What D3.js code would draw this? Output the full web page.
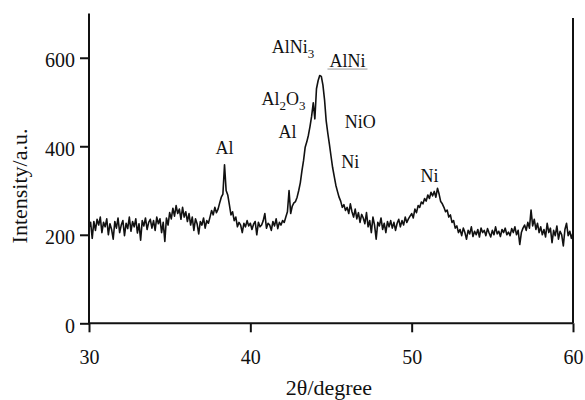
<!DOCTYPE html>
<html>
<head>
<meta charset="utf-8">
<script src="https://cdn.jsdelivr.net/npm/d3@7"></script>
<style>
  body { margin: 0; background: #fff; }
  svg text { font-family: "Liberation Serif", "Times New Roman", "DejaVu Serif", serif !important; fill: #111; }
</style>
</head>
<body>
<svg width="585" height="400"></svg>
<script>
// scan starts at 30 deg, one reading every 0.1 deg
var angleStart = 30;
var angleStep = 0.1;

// intensity, one row per degree (30 ... 59, then 60)
var intensity = [
  215, 228, 192, 230, 210, 235, 222, 240, 205, 228,
  218, 236, 200, 225, 212, 190, 230, 215, 238, 205,
  222, 232, 198, 226, 214, 240, 208, 230, 218, 236,
  204, 225, 188, 232, 220, 238, 212, 228, 235, 215,
  232, 210, 240, 225, 236, 205, 228, 185, 238, 222,
  250, 236, 260, 242, 266, 248, 258, 235, 262, 240,
  252, 230, 248, 222, 240, 210, 236, 225, 202, 230,
  222, 238, 215, 232, 226, 240, 255, 245, 262, 250,
  258, 272, 285, 292, 358, 300, 290, 268, 245, 252,
  232, 240, 218, 228, 222, 205, 226, 218, 232, 220,
  226, 212, 224, 230, 200, 228, 218, 222, 232, 248,
  215, 226, 222, 210, 230, 220, 236, 214, 228, 222,
  232, 228, 240, 252, 300, 248, 265, 272, 275, 285,
  300, 318, 345, 368, 398, 410, 425, 445, 468, 498,
  462, 530, 548, 560, 558, 538, 505, 458, 430, 405,
  378, 352, 332, 312, 298, 285, 276, 262, 268, 255,
  262, 248, 270, 252, 240, 258, 236, 250, 228, 246,
  238, 225, 250, 218, 232, 205, 240, 222, 190, 228,
  220, 238, 212, 226, 205, 230, 218, 232, 215, 228,
  210, 226, 235, 218, 232, 222, 240, 228, 236, 242,
  248, 238, 258, 250, 266, 262, 274, 270, 282, 276,
  290, 282, 296, 288, 298, 285, 305, 292, 275, 270,
  262, 252, 256, 240, 245, 228, 232, 215, 220, 205,
  212, 198, 215, 205, 190, 210, 202, 218, 196, 208,
  200, 212, 195, 215, 205, 210, 198, 214, 204, 195,
  210, 200, 218, 202, 208, 196, 212, 205, 215, 200,
  206, 198, 214, 205, 218, 200, 210, 178, 205, 215,
  222, 210, 228, 215, 256, 220, 235, 212, 226, 205,
  218, 200, 212, 195, 226, 205, 215, 182, 210, 198,
  220, 190, 208, 200, 175, 212, 226, 198, 208, 192,
  205
];

var xTicks = [30, 40, 50, 60];
var yTicks = [0, 200, 400, 600];

// phase labels: name, subscript, where they sit (2theta, intensity)
var phaseNames = ['AlNi', 'AlNi', 'Al', 'NiO', 'Al', 'Ni', 'Ni'];
var phaseSubs  = ['3', '', '', '', '', '', ''];
var phaseAngle = [42.64, 46.02, 42.30, 46.82, 38.40, 46.20, 51.10];
var phaseLevel = [611, 579, 419, 441, 383, 351, 319];

var serif = '"Liberation Serif", "Times New Roman", serif';

var svg = d3.select('svg');

var x = d3.scaleLinear().domain([30, 60]).range([89, 573]);
var y = d3.scaleLinear().domain([0, 700]).range([323.3, 13.5]);

var points = intensity.map(function(v, i) {
  return { a: angleStart + i * angleStep, v: v };
});

// the pattern itself
svg.append('path')
  .datum(points)
  .attr('fill', 'none')
  .attr('stroke', '#111')
  .attr('stroke-width', 1.6)
  .attr('stroke-linejoin', 'round')
  .attr('d', d3.line()
    .x(function(d) { return x(d.a); })
    .y(function(d) { return y(d.v); }));

// axes
var gx = svg.append('g')
  .attr('transform', 'translate(0,' + y(0) + ')')
  .call(d3.axisBottom(x).tickValues(xTicks).tickSize(9).tickFormat(d3.format('d')));
gx.selectAll('text').attr('y', 41).attr('dy', 0);

var gy = svg.append('g')
  .attr('transform', 'translate(' + x(30) + ',0)')
  .call(d3.axisLeft(y).tickValues(yTicks).tickSize(9).tickPadding(5).tickFormat(d3.format('d')));
gy.selectAll('text').attr('dy', '0.45em');

svg.selectAll('g').attr('font-family', serif);
svg.selectAll('.domain').remove();
svg.selectAll('.tick line').attr('stroke', '#111').attr('stroke-width', 2);
svg.selectAll('.tick text').style('font-size', '20px').attr('fill', '#111');

// frame lines: left, bottom, right
svg.append('line')
  .attr('x1', x(30)).attr('x2', x(30))
  .attr('y1', y(700)).attr('y2', y(0) + 1)
  .attr('stroke', '#111').attr('stroke-width', 2);
svg.append('line')
  .attr('x1', x(30)).attr('x2', x(60))
  .attr('y1', y(0)).attr('y2', y(0))
  .attr('stroke', '#111').attr('stroke-width', 2);
svg.append('line')
  .attr('x1', x(60)).attr('x2', x(60))
  .attr('y1', y(690)).attr('y2', y(0))
  .attr('stroke', '#111').attr('stroke-width', 2);

// axis titles
svg.append('text')
  .attr('x', 329).attr('y', 395)
  .attr('text-anchor', 'middle')
  .attr('font-family', serif)
  .style('font-size', '22px')
  .text('2θ/degree');

svg.append('text')
  .attr('transform', 'translate(27,186) rotate(-90)')
  .attr('text-anchor', 'middle')
  .attr('font-family', serif)
  .style('font-size', '22px')
  .text('Intensity/a.u.');

// phase labels
phaseNames.forEach(function(name, i) {
  var t = svg.append('text')
    .attr('x', x(phaseAngle[i]))
    .attr('y', y(phaseLevel[i]))
    .attr('text-anchor', 'middle')
    .attr('font-family', serif)
    .style('font-size', '18px');
  t.append('tspan').text(name);
  if (phaseSubs[i]) {
    t.append('tspan').attr('dy', 5).style('font-size', '13px').text(phaseSubs[i]);
  }
});

// Al2O3 needs two subscripts
var oxide = svg.append('text')
  .attr('x', x(42.05)).attr('y', y(493))
  .attr('text-anchor', 'middle')
  .attr('font-family', serif)
  .style('font-size', '18px');
oxide.append('tspan').text('Al');
oxide.append('tspan').attr('dy', 5).style('font-size', '13px').text('2');
oxide.append('tspan').attr('dy', -5).text('O');
oxide.append('tspan').attr('dy', 5).style('font-size', '13px').text('3');

// faint underline under AlNi
svg.append('line')
  .attr('x1', x(46.02) - 20).attr('x2', x(46.02) + 20)
  .attr('y1', y(579) + 2).attr('y2', y(579) + 2)
  .attr('stroke', '#999').attr('stroke-width', 1);
</script>
</body>
</html>
